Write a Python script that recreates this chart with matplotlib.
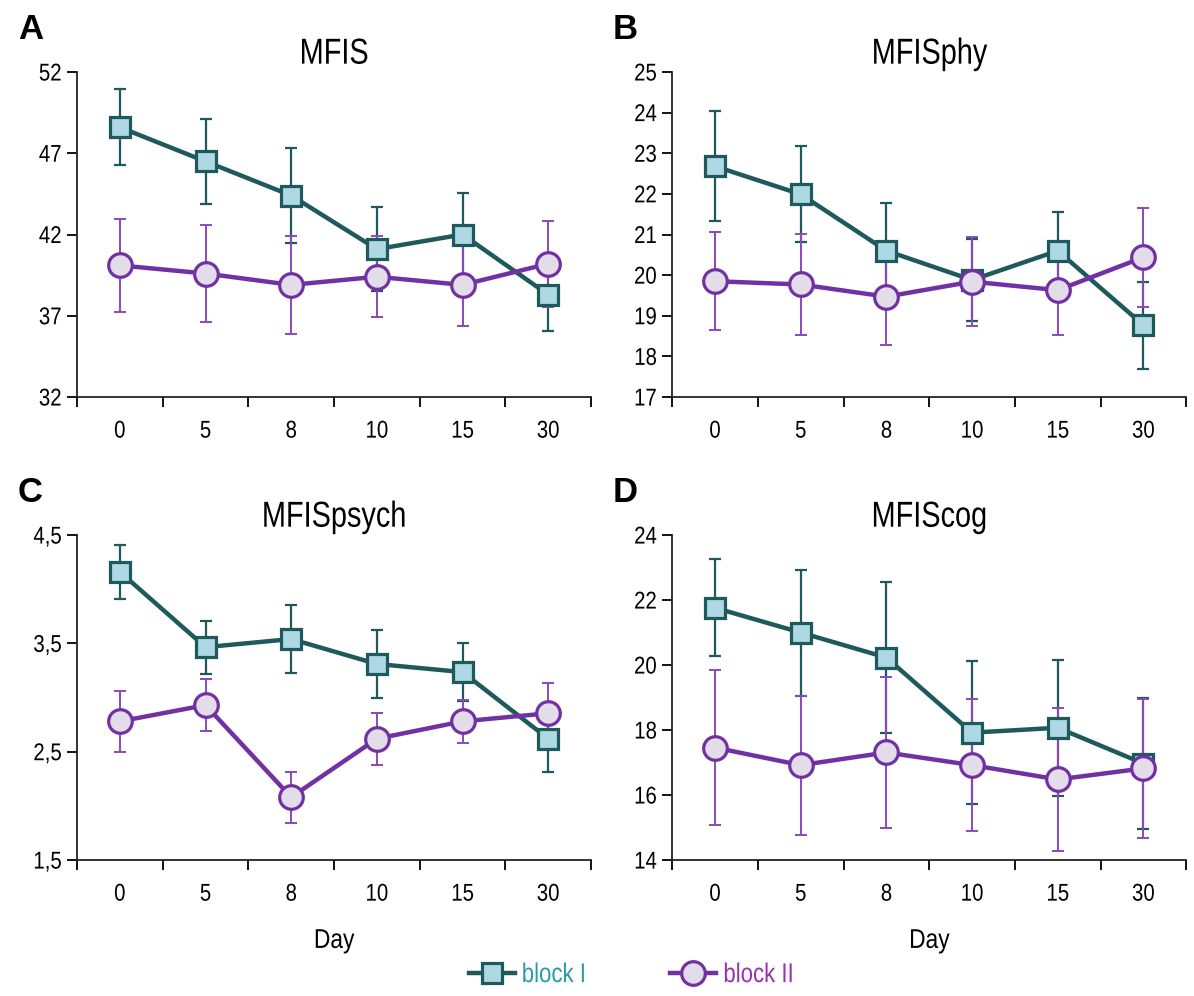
import numpy as np
import matplotlib
matplotlib.use('Agg')
import matplotlib.pyplot as plt
from matplotlib.lines import Line2D
from matplotlib.ticker import FuncFormatter
from matplotlib.transforms import Affine2D
from matplotlib import patheffects

plt.rcParams['font.family'] = ['Liberation Sans', 'DejaVu Sans']

days = ['0', '5', '8', '10', '15', '30']

# MFIS total
mfis_b1 = [48.6, 46.5, 44.4, 41.1, 42.0, 38.3]
mfis_b1_err = [2.35, 2.6, 2.9, 2.6, 2.55, 2.25]
mfis_b2 = [40.1, 39.6, 38.9, 39.4, 38.9, 40.2]
mfis_b2_err = [2.85, 3.0, 3.0, 2.5, 2.5, 2.65]

# physical subscale
phy_b1 = [22.68, 21.99, 20.6, 19.88, 20.6, 18.77]
phy_b1_err = [1.35, 1.18, 1.18, 1.0, 0.95, 1.07]
phy_b2 = [19.85, 19.77, 19.47, 19.84, 19.63, 20.44]
phy_b2_err = [1.21, 1.25, 1.2, 1.1, 1.1, 1.22]

# psychosocial subscale
psych_b1 = [4.16, 3.465, 3.54, 3.31, 3.235, 2.62]
psych_b1_err = [0.25, 0.245, 0.31, 0.31, 0.27, 0.31]
psych_b2 = [2.78, 2.93, 2.08, 2.62, 2.78, 2.855]
psych_b2_err = [0.28, 0.24, 0.235, 0.24, 0.2, 0.275]

# cognitive subscale
cog_b1 = [21.76, 21.0, 20.23, 17.92, 18.07, 16.97]
cog_b1_err = [1.49, 1.94, 2.33, 2.2, 2.1, 2.03]
cog_b2 = [17.46, 16.92, 17.31, 16.92, 16.48, 16.82]
cog_b2_err = [2.38, 2.14, 2.31, 2.03, 2.2, 2.15]

TEAL = '#1e5a5c'
TEAL_FILL = '#aed8e3'
PURPLE = '#7231a3'
PURPLE_ERR = '#8c48bd'
PURPLE_FILL = '#e2dde8'


class Narrow(patheffects.AbstractPathEffect):
    """Squeeze glyph paths horizontally (no narrow font installed)."""

    def __init__(self, sx=0.82, anchor='center'):
        super().__init__()
        self.sx = sx
        self.anchor = anchor

    def draw_path(self, renderer, gc, tpath, affine, rgbFace=None):
        ext = tpath.get_extents()
        if self.anchor == 'right':
            cx = ext.x1
        elif self.anchor == 'left':
            cx = ext.x0
        else:
            cx = 0.5 * (ext.x0 + ext.x1)
        t = Affine2D().translate(-cx, 0).scale(self.sx, 1).translate(cx, 0) + affine
        renderer.draw_path(gc, tpath, t, rgbFace)


panels = [
    ('A', 'MFIS', mfis_b1, mfis_b1_err, mfis_b2, mfis_b2_err, (32, 52), np.arange(32, 53, 5), False),
    ('B', 'MFISphy', phy_b1, phy_b1_err, phy_b2, phy_b2_err, (17, 25), np.arange(17, 26, 1), False),
    ('C', 'MFISpsych', psych_b1, psych_b1_err, psych_b2, psych_b2_err, (1.5, 4.5), [1.5, 2.5, 3.5, 4.5], True),
    ('D', 'MFIScog', cog_b1, cog_b1_err, cog_b2, cog_b2_err, (14, 24), np.arange(14, 25, 2), True),
]

# axes boxes in figure fractions
boxes = [
    [0.0645, 0.6014, 0.4305, 0.3263],
    [0.563, 0.6014, 0.4305, 0.3263],
    [0.0645, 0.1365, 0.4305, 0.3263],
    [0.563, 0.1365, 0.4305, 0.3263],
]

fig = plt.figure(figsize=(11.94, 9.96), dpi=100)
x = np.arange(len(days))

for box, (letter, title, b1, b1e, b2, b2e, ylim, yticks, bottom_row) in zip(boxes, panels):
    ax = fig.add_axes(box)
    ax.errorbar(x, b1, yerr=b1e, fmt='none', ecolor=TEAL, elinewidth=1.6, capsize=4.5, capthick=1.6, zorder=2)
    ax.errorbar(x, b2, yerr=b2e, fmt='none', ecolor=PURPLE_ERR, elinewidth=1.4, capsize=4.5, capthick=1.4, zorder=3)
    ax.plot(x, b1, color=TEAL, lw=3.2, marker='s', ms=14, mfc=TEAL_FILL, mec=TEAL, mew=2.3, zorder=4)
    ax.plot(x, b2, color=PURPLE, lw=3.2, marker='o', ms=17, mfc=PURPLE_FILL, mec=PURPLE, mew=2.3, zorder=5)

    ax.set_xlim(-0.5, 5.5)
    ax.set_ylim(*ylim)
    ax.set_yticks(yticks)
    if letter == 'C':
        ax.yaxis.set_major_formatter(FuncFormatter(lambda v, p: f'{v:.1f}'.replace('.', ',')))
    ax.set_xticks(x)
    ax.set_xticklabels(days)
    ax.set_xticks(np.arange(-0.5, 6, 1), minor=True)
    ax.tick_params(axis='x', which='major', length=0, pad=17, labelsize=17.5)
    ax.tick_params(axis='x', which='minor', length=7, width=1.3, direction='out')
    ax.tick_params(axis='y', length=7, width=1.3, direction='out', labelsize=17.5, pad=4)
    for s in ['top', 'right']:
        ax.spines[s].set_visible(False)
    for s in ['left', 'bottom']:
        ax.spines[s].set_linewidth(1.3)
        ax.spines[s].set_color('#222222')
    for lab in ax.get_xticklabels():
        lab.set_path_effects([Narrow(0.84, 'center')])
    for lab in ax.get_yticklabels():
        lab.set_path_effects([Narrow(0.84, 'right')])

    t = ax.set_title(title, fontsize=26, pad=6)
    t.set_path_effects([Narrow(0.8, 'center')])
    if bottom_row:
        xl = ax.set_xlabel('Day', fontsize=19.5, labelpad=16)
        xl.set_path_effects([Narrow(0.84, 'center')])
    fig.text(box[0] - 0.039, box[1] + box[3] + 0.043, letter, fontsize=25, fontweight='bold',
             va='center', ha='center')

handles = [
    Line2D([], [], color=TEAL, lw=3.2, marker='s', ms=14, mfc=TEAL_FILL, mec=TEAL, mew=2.3),
    Line2D([], [], color=PURPLE, lw=3.2, marker='o', ms=17, mfc=PURPLE_FILL, mec=PURPLE, mew=2.3),
]
leg = fig.legend(handles, ['block I', 'block II'], loc='center', bbox_to_anchor=(0.535, 0.021),
                 ncol=2, frameon=False, fontsize=19.5, handlelength=1.7, handletextpad=0.25,
                 columnspacing=2.6)
leg.get_texts()[0].set_color('#2a9ca4')
leg.get_texts()[1].set_color('#9a2fb4')
for txt in leg.get_texts():
    txt.set_path_effects([Narrow(0.82, 'left')])

fig.savefig('out.png', dpi=100)
